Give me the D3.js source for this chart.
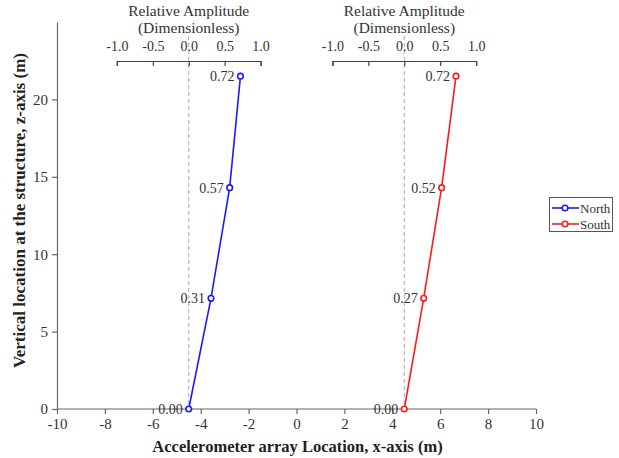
<!DOCTYPE html>
<html><head><meta charset="utf-8">
<script src="https://cdn.jsdelivr.net/npm/d3@7"></script>
<style>
body{margin:0;background:#fff;}
text{font-family:"Liberation Serif","Times New Roman",serif;}
</style></head>
<body><svg id="c" width="619" height="458"></svg>
<script>
const heights = [0, 7.15, 14.3, 21.5];
const northAmp = [0.00, 0.31, 0.57, 0.72];
const southAmp = [0.00, 0.27, 0.52, 0.72];
const northBase = -4.5, southBase = 4.5;
const ampScale = 3; // 1 unit relative amplitude = 3 m on x-axis
const xTicks = [-10,-8,-6,-4,-2,0,2,4,6,8,10];
const yTicks = [0,5,10,15,20];
const ampTicks = [-1.0,-0.5,0.0,0.5,1.0];

const svg = d3.select("#c");
const x = d3.scaleLinear().domain([-10,10]).range([57,536]);
const y = d3.scaleLinear().domain([0,25]).range([409,22]);
const axisCol = "#666", txtCol = "#333";
const serif = "'Liberation Serif','Times New Roman',serif";

const gx = svg.append("g").attr("transform",`translate(0,${y(0)})`)
  .call(d3.axisBottom(x).tickValues(xTicks).tickSize(5).tickPadding(4).tickFormat(d=>String(d)));
const gy = svg.append("g").attr("transform",`translate(${x(-10)},0)`)
  .call(d3.axisLeft(y).tickValues(yTicks).tickSize(5).tickPadding(4).tickSizeOuter(0).tickFormat(d=>String(d)));
[gx,gy].forEach(g=>{
  g.selectAll("path,line").attr("stroke",axisCol).attr("stroke-width",1.2);
  g.selectAll("text").attr("fill",txtCol).style("font-size","15px").style("font-family",serif);
});
gx.select(".domain").attr("d",`M${x(-10)},0H${x(10)}`);

svg.append("text").attr("x",(x(-10)+x(10))/2+1).attr("y",452).attr("text-anchor","middle")
  .style("font-size","16.5px").style("font-weight","bold").attr("fill","#222")
  .text("Accelerometer array Location, x-axis (m)");
svg.append("text").attr("transform",`translate(25,${(y(0)+y(25))/2-5}) rotate(-90)`).attr("text-anchor","middle")
  .style("font-size","17px").style("font-weight","bold").attr("fill","#222")
  .text("Vertical location at the structure, z-axis (m)");

function series(base, amps, color){
  const a = d3.scaleLinear().domain([-1,1]).range([x(base-ampScale), x(base+ampScale)]);
  const axY = 61;
  svg.append("line").attr("x1",x(base)).attr("x2",x(base)).attr("y1",36).attr("y2",y(0)-3)
    .attr("stroke","#aaa").attr("stroke-dasharray","4,3").attr("stroke-width",1);
  const ga = svg.append("g").attr("transform",`translate(0,${axY})`)
    .call(d3.axisTop(a).tickValues(ampTicks).tickSize(-5).tickSizeOuter(-5).tickPadding(10).tickFormat(d=>d.toFixed(1)));
  ga.selectAll("path,line").attr("stroke","#444").attr("stroke-width",1.2);
  ga.selectAll("text").attr("fill",txtCol).style("font-size","14px").style("font-family",serif);
  const cx = (a(-1)+a(1))/2;
  svg.append("text").attr("x",cx).attr("y",16).attr("text-anchor","middle").style("font-size","15.5px").attr("fill",txtCol).text("Relative Amplitude");
  svg.append("text").attr("x",cx).attr("y",33).attr("text-anchor","middle").style("font-size","15.5px").attr("fill",txtCol).text("(Dimensionless)");

  const pts = amps.map((v,i)=>({v, z:heights[i]}));
  svg.append("path").datum(pts)
    .attr("d", d3.line().x(d=>x(base+ampScale*d.v)).y(d=>y(d.z)))
    .attr("fill","none").attr("stroke",color).attr("stroke-width",1.6);
  svg.selectAll(null).data(pts).join("circle")
    .attr("cx",d=>x(base+ampScale*d.v)).attr("cy",d=>y(d.z)).attr("r",2.8)
    .attr("fill","#fff").attr("stroke",color).attr("stroke-width",1.6);
  svg.selectAll(null).data(pts).join("text")
    .attr("x",d=>x(base+ampScale*d.v)-6).attr("y",d=>y(d.z)+5).attr("text-anchor","end")
    .style("font-size","14px").attr("fill",txtCol).text(d=>d.v.toFixed(2));
}
series(northBase, northAmp, "#1a1aff");
series(southBase, southAmp, "#ff1a1a");

const lg = svg.append("g");
lg.append("rect").attr("x",549.5).attr("y",197.5).attr("width",63).attr("height",34)
  .attr("fill","#fff").attr("stroke","#555").attr("stroke-width",1);
[["North","#1a1aff"],["South","#ff1a1a"]].forEach(([n,c],i)=>{
  const yy = 208+i*16;
  lg.append("line").attr("x1",552).attr("x2",579).attr("y1",yy).attr("y2",yy).attr("stroke",c).attr("stroke-width",1.6);
  lg.append("circle").attr("cx",565).attr("cy",yy).attr("r",2.8).attr("fill","#fff").attr("stroke",c).attr("stroke-width",1.6);
  lg.append("text").attr("x",580).attr("y",yy+4.5).style("font-size","13px").attr("fill",txtCol).text(n);
});
</script></body></html>
